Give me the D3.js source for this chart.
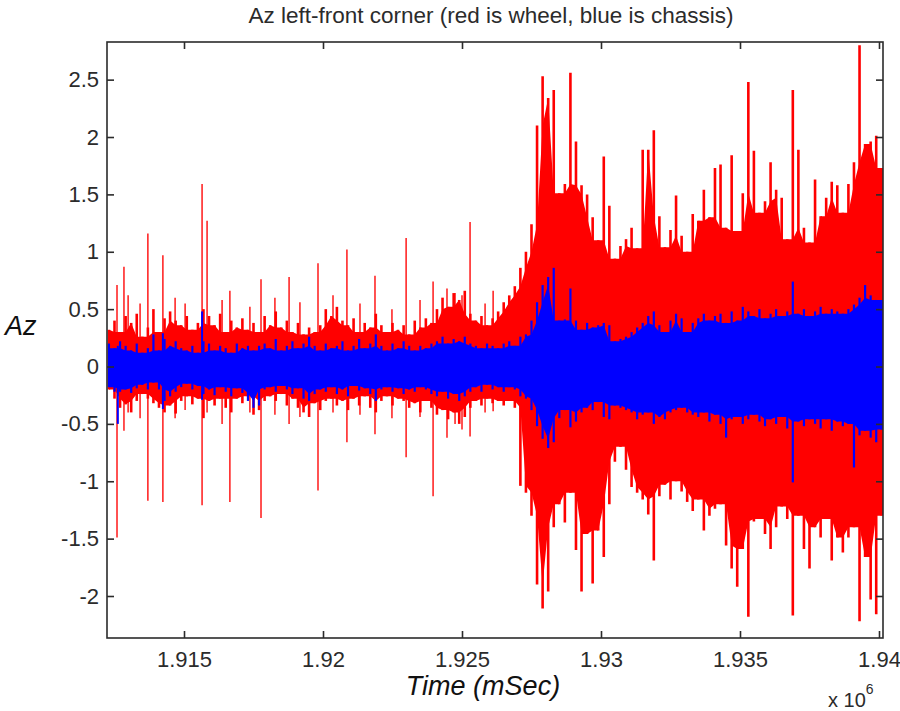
<!DOCTYPE html>
<html lang="en">
<head>
<meta charset="utf-8" />
<title>Az left-front corner</title>
<script src="https://d3js.org/d3.v7.min.js"></script>
<style>
    body { margin: 0; background: #fff; }
    svg text { font-family: "Liberation Sans", Arial, Helvetica, sans-serif; fill: #2b2b2b; }
    .axis path { display: none; }
    .axis line { stroke: #2b2b2b; stroke-width: 1.6px; }
</style>
</head>
<body>
<script>
    // ---- data (time in units of 1e6 mSec, Az in g) ----
    // column times of the envelope
    var times = [
        1.9123,1.9125,1.9127,1.9129,1.9131,1.9133,1.9135,1.9137,1.9139,1.9141,
        1.9143,1.9145,1.9147,1.9149,1.9151,1.9153,1.9155,1.9157,1.9159,1.9161,
        1.9163,1.9165,1.9167,1.9169,1.9171,1.9173,1.9175,1.9177,1.9179,1.9181,
        1.9183,1.9185,1.9187,1.9189,1.9191,1.9193,1.9195,1.9197,1.9199,1.9201,
        1.9203,1.9205,1.9207,1.9209,1.9211,1.9213,1.9215,1.9217,1.9219,1.9221,
        1.9223,1.9225,1.9227,1.9229,1.9231,1.9233,1.9235,1.9237,1.9239,1.9241,
        1.9243,1.9245,1.9247,1.9249,1.9251,1.9253,1.9255,1.9257,1.9259,1.9261,
        1.9263,1.9265,1.9267,1.9269,1.9271,1.9273,1.9275,1.9277,1.9279,1.9281,
        1.9283,1.9285,1.9287,1.9289,1.9291,1.9293,1.9295,1.9297,1.9299,1.9301,
        1.9303,1.9305,1.9307,1.9309,1.9311,1.9313,1.9315,1.9317,1.9319,1.9321,
        1.9323,1.9325,1.9327,1.9329,1.9331,1.9333,1.9335,1.9337,1.9339,1.9341,
        1.9343,1.9345,1.9347,1.9349,1.9351,1.9353,1.9355,1.9357,1.9359,1.9361,
        1.9363,1.9365,1.9367,1.9369,1.9371,1.9373,1.9375,1.9377,1.9379,1.9381,
        1.9383,1.9385,1.9387,1.9389,1.9391,1.9393,1.9395,1.9397,1.9399,1.9401
    ];
    // wheel (red) upper / lower envelope
    var wheelHi = [
        0.32,0.40,0.30,0.44,0.38,0.46,0.26,0.34,0.50,0.30,
        0.42,0.48,0.40,0.36,0.44,0.32,0.38,0.50,0.44,0.36,
        0.46,0.30,0.40,0.34,0.42,0.32,0.38,0.30,0.44,0.36,
        0.48,0.34,0.40,0.30,0.38,0.28,0.34,0.30,0.36,0.50,
        0.44,0.52,0.40,0.36,0.42,0.30,0.38,0.34,0.46,0.36,
        0.30,0.38,0.32,0.36,0.28,0.40,0.34,0.42,0.38,0.50,
        0.60,0.52,0.64,0.58,0.66,0.46,0.40,0.44,0.36,0.42,
        0.48,0.56,0.62,0.70,0.86,1.00,1.24,2.10,2.53,2.34,
        2.41,1.51,1.59,2.56,1.96,1.58,1.50,1.30,1.10,1.83,
        1.40,0.94,1.05,1.11,1.21,1.03,1.89,1.89,2.06,1.31,
        1.04,1.19,1.49,1.14,1.00,1.33,1.27,1.54,1.30,1.73,
        1.76,1.21,1.84,1.18,1.51,2.48,1.88,1.34,1.44,1.78,
        1.54,1.47,1.11,2.41,1.89,1.21,1.08,1.63,1.31,1.47,
        1.61,1.58,1.34,1.59,1.78,2.80,1.94,1.96,2.01,1.73
    ];
    var wheelLo = [
        -0.20,-0.28,-0.36,-0.33,-0.40,-0.30,-0.24,-0.28,-0.32,-0.36,
        -0.40,-0.34,-0.41,-0.30,-0.26,-0.33,-0.28,-0.45,-0.30,-0.34,
        -0.28,-0.36,-0.40,-0.28,-0.32,-0.26,-0.42,-0.38,-0.30,-0.26,
        -0.30,-0.24,-0.34,-0.28,-0.36,-0.40,-0.44,-0.32,-0.38,-0.30,
        -0.28,-0.34,-0.30,-0.38,-0.28,-0.34,-0.26,-0.36,-0.40,-0.30,
        -0.26,-0.34,-0.28,-0.30,-0.36,-0.32,-0.40,-0.30,-0.36,-0.42,
        -0.38,-0.46,-0.40,-0.50,-0.44,-0.36,-0.30,-0.34,-0.28,-0.32,
        -0.30,-0.34,-0.30,-0.36,-1.04,-1.10,-1.30,-1.90,-2.11,-1.96,
        -1.40,-1.20,-1.36,-1.10,-1.60,-1.96,-1.46,-1.89,-1.43,-1.66,
        -1.20,-0.83,-0.70,-0.90,-1.05,-1.10,-1.16,-1.29,-1.69,-1.13,
        -1.03,-1.16,-1.00,-1.09,-1.18,-1.26,-1.16,-1.43,-1.30,-1.24,
        -1.20,-1.56,-1.76,-1.92,-1.59,-2.18,-1.35,-1.33,-1.46,-1.59,
        -1.40,-1.22,-1.33,-2.17,-1.30,-1.59,-1.76,-1.40,-1.49,-1.33,
        -1.69,-1.49,-1.62,-1.49,-1.40,-2.22,-1.66,-2.03,-2.16,-1.30
    ];
    // chassis (blue) upper / lower envelope
    var chassisHi = [
        0.20,0.16,0.22,0.18,0.14,0.20,0.12,0.16,0.28,0.14,
        0.24,0.18,0.22,0.16,0.14,0.18,0.12,0.22,0.20,0.14,
        0.18,0.16,0.12,0.20,0.16,0.18,0.14,0.18,0.20,0.16,
        0.24,0.14,0.18,0.22,0.16,0.20,0.26,0.18,0.14,0.20,
        0.16,0.18,0.22,0.14,0.18,0.24,0.16,0.20,0.28,0.18,
        0.14,0.20,0.16,0.22,0.18,0.14,0.18,0.16,0.20,0.22,
        0.26,0.20,0.24,0.22,0.26,0.20,0.18,0.16,0.20,0.18,
        0.16,0.20,0.22,0.18,0.26,0.28,0.40,0.56,0.71,0.78,
        0.86,0.40,0.41,0.68,0.40,0.32,0.38,0.34,0.36,0.38,
        0.36,0.22,0.24,0.26,0.30,0.34,0.38,0.44,0.48,0.36,
        0.30,0.40,0.46,0.42,0.30,0.38,0.42,0.46,0.40,0.44,
        0.46,0.38,0.48,0.40,0.52,0.48,0.44,0.50,0.42,0.46,
        0.50,0.44,0.48,0.74,0.46,0.50,0.44,0.48,0.52,0.46,
        0.50,0.48,0.46,0.50,0.54,0.60,0.71,0.62,0.58,0.58
    ];
    var chassisLo = [
        -0.18,-0.22,-0.22,-0.20,-0.23,-0.19,-0.16,-0.20,-0.14,-0.20,
        -0.30,-0.26,-0.22,-0.18,-0.15,-0.20,-0.17,-0.24,-0.20,-0.25,
        -0.18,-0.22,-0.26,-0.19,-0.23,-0.30,-0.36,-0.34,-0.20,-0.18,
        -0.22,-0.17,-0.20,-0.24,-0.19,-0.28,-0.30,-0.24,-0.20,-0.22,
        -0.18,-0.24,-0.20,-0.26,-0.17,-0.21,-0.19,-0.24,-0.30,-0.20,
        -0.18,-0.22,-0.19,-0.24,-0.20,-0.22,-0.18,-0.20,-0.24,-0.26,
        -0.22,-0.28,-0.24,-0.30,-0.26,-0.22,-0.18,-0.22,-0.16,-0.20,
        -0.18,-0.22,-0.18,-0.20,-0.26,-0.28,-0.38,-0.52,-0.63,-0.71,
        -0.66,-0.45,-0.38,-0.53,-0.48,-0.40,-0.36,-0.38,-0.31,-0.44,
        -0.46,-0.34,-0.36,-0.38,-0.40,-0.46,-0.42,-0.40,-0.50,-0.44,
        -0.46,-0.40,-0.38,-0.36,-0.40,-0.42,-0.44,-0.40,-0.48,-0.42,
        -0.50,-0.62,-0.46,-0.44,-0.50,-0.46,-0.42,-0.48,-0.52,-0.46,
        -0.50,-0.44,-0.54,-1.01,-0.48,-0.52,-0.46,-0.50,-0.54,-0.46,
        -0.56,-0.48,-0.52,-0.50,-0.88,-0.60,-0.56,-0.62,-0.66,-0.55
    ];
    // isolated wheel spikes in the quiet part
    var spikeTimes = [
        1.91259,1.91284,1.91299,1.91342,1.91370,1.91424,1.91468,1.91504,
        1.91565,1.91583,1.91637,1.91665,1.91737,1.91777,1.91827,1.91878,
        1.91917,1.91982,1.92036,1.92086,1.92133,1.92187,1.92248,1.92299,
        1.92349,1.92396,1.92446,1.92475,1.92500,1.92529,1.92583,1.92612
    ];
    var spikeHi = [
        0.71,0.87,0.62,0.55,1.16,0.97,0.60,0.55,
        1.59,1.27,0.58,0.66,0.52,0.76,0.60,0.78,
        0.56,0.90,0.62,1.02,0.55,0.79,0.50,1.12,
        0.58,0.74,0.68,0.64,0.62,1.26,0.55,0.66
    ];
    var spikeLo = [
        -1.49,-0.56,-0.40,-0.45,-1.17,-1.18,-0.45,-0.38,
        -1.21,-0.40,-0.50,-1.18,-0.40,-1.32,-0.42,-0.50,
        -0.44,-1.08,-0.40,-0.66,-0.42,-0.59,-0.45,-0.79,
        -0.44,-1.13,-0.62,-0.50,-0.55,-0.61,-0.40,-0.39
    ];
    // isolated chassis spikes
    var blueSpikeTimes = [1.91262, 1.91424, 1.91565];
    var blueSpikeHi = [0.18, 0.29, 0.48];
    var blueSpikeLo = [-0.50, -0.37, -0.29];

    var xTicks = [1.915, 1.92, 1.925, 1.93, 1.935, 1.94];
    var yTicks = [-2, -1.5, -1, -0.5, 0, 0.5, 1, 1.5, 2, 2.5];

    // ---- layout ----
    var width = 900, height = 711;
    var pLeft = 107, pRight = 883, pTop = 42, pBottom = 638;

    var svg = d3.select("body").append("svg")
        .attr("width", width)
        .attr("height", height);

    var x = d3.scaleLinear().domain([1.91223, 1.940144]).range([pLeft, pRight]);
    var y = d3.scaleLinear().domain([-2.366, 2.828]).range([pBottom, pTop]);

    svg.append("clipPath").attr("id", "plotclip")
        .append("rect")
        .attr("x", pLeft).attr("y", pTop)
        .attr("width", pRight - pLeft).attr("height", pBottom - pTop);

    var plot = svg.append("g").attr("clip-path", "url(#plotclip)");

    // the solid core of each band is the smallest swing of a column and its neighbours,
    // the column itself is drawn as a thin stroke up to its own peak (comb look)
    function neighbours(arr, i) {
        return arr.slice(Math.max(0, i - 1), Math.min(arr.length, i + 2));
    }
    var cols = times.map(function (t, i) {
        return {
            t: t,
            rh: wheelHi[i], rl: wheelLo[i], bh: chassisHi[i], bl: chassisLo[i],
            rhc: d3.min(neighbours(wheelHi, i)), rlc: d3.max(neighbours(wheelLo, i)),
            bhc: d3.min(neighbours(chassisHi, i)), blc: d3.max(neighbours(chassisLo, i))
        };
    });

    function band(hiKey, loKey) {
        return d3.area()
            .x(function (d) { return x(d.t); })
            .y0(function (d) { return y(d[loKey]); })
            .y1(function (d) { return y(d[hiKey]); });
    }

    function columnLines(g, color, hiKey, loKey, w) {
        g.selectAll("line")
            .data(cols).enter().append("line")
            .attr("x1", function (d) { return x(d.t); })
            .attr("x2", function (d) { return x(d.t); })
            .attr("y1", function (d) { return y(d[loKey]); })
            .attr("y2", function (d) { return y(d[hiKey]); })
            .attr("stroke", color)
            .attr("stroke-width", w);
    }

    //wheel
    plot.append("path").datum(cols)
        .attr("d", band("rhc", "rlc"))
        .attr("fill", "#ff0000");
    plot.append("g").call(columnLines, "#ff0000", "rh", "rl", 2.6);
    plot.append("g").selectAll("line")
        .data(spikeTimes).enter().append("line")
        .attr("x1", function (d) { return x(d); })
        .attr("x2", function (d) { return x(d); })
        .attr("y1", function (d, i) { return y(spikeLo[i]); })
        .attr("y2", function (d, i) { return y(spikeHi[i]); })
        .attr("stroke", "#ff0000")
        .attr("stroke-opacity", 0.85)
        .attr("stroke-width", 1.6);

    //chassis
    plot.append("path").datum(cols)
        .attr("d", band("bhc", "blc"))
        .attr("fill", "#0000ff");
    plot.append("g").call(columnLines, "#0000ff", "bh", "bl", 2.2);
    plot.append("g").selectAll("line")
        .data(blueSpikeTimes).enter().append("line")
        .attr("x1", function (d) { return x(d); })
        .attr("x2", function (d) { return x(d); })
        .attr("y1", function (d, i) { return y(blueSpikeLo[i]); })
        .attr("y2", function (d, i) { return y(blueSpikeHi[i]); })
        .attr("stroke", "#0000ff")
        .attr("stroke-width", 2);

    // ---- axes (matlab style box, ticks inside) ----
    var fmt = function (d) { return String(+d.toFixed(3)); };

    svg.append("g").attr("class", "axis")
        .attr("transform", "translate(0," + pBottom + ")")
        .call(d3.axisBottom(x).tickValues(xTicks).tickFormat(fmt).tickSizeInner(-7).tickSizeOuter(0).tickPadding(13))
        .call(function (g) { g.selectAll("text").style("font-size", "22px").attr("fill", "#2b2b2b"); });

    svg.append("g").attr("class", "axis")
        .attr("transform", "translate(0," + pTop + ")")
        .call(d3.axisTop(x).tickValues(xTicks).tickFormat("").tickSizeInner(-7).tickSizeOuter(0));

    svg.append("g").attr("class", "axis")
        .attr("transform", "translate(" + pLeft + ",0)")
        .call(d3.axisLeft(y).tickValues(yTicks).tickFormat(fmt).tickSizeInner(-7).tickSizeOuter(0).tickPadding(8))
        .call(function (g) { g.selectAll("text").style("font-size", "22px").attr("fill", "#2b2b2b"); });

    svg.append("g").attr("class", "axis")
        .attr("transform", "translate(" + pRight + ",0)")
        .call(d3.axisRight(y).tickValues(yTicks).tickFormat("").tickSizeInner(-7).tickSizeOuter(0));

    svg.append("rect")
        .attr("x", pLeft).attr("y", pTop)
        .attr("width", pRight - pLeft).attr("height", pBottom - pTop)
        .attr("fill", "none")
        .attr("stroke", "#2b2b2b")
        .attr("stroke-width", 1.6);

    // ---- texts ----
    svg.append("text")
        .attr("x", 491).attr("y", 23)
        .attr("text-anchor", "middle")
        .style("font-size", "22.5px")
        .text("Az left-front corner (red is wheel, blue is chassis)");

    svg.append("text")
        .attr("x", 5).attr("y", 335)
        .style("font-size", "27px")
        .style("font-style", "italic")
        .style("fill", "#111")
        .text("Az");

    svg.append("text")
        .attr("x", 483).attr("y", 695)
        .attr("text-anchor", "middle")
        .style("font-size", "27px")
        .style("font-style", "italic")
        .style("fill", "#111")
        .text("Time (mSec)");

    var mult = svg.append("text")
        .attr("x", 828).attr("y", 707)
        .style("font-size", "20px");
    mult.append("tspan").text("x 10");
    mult.append("tspan").attr("dy", -13).style("font-size", "14px").text("6");
</script>
</body>
</html>
